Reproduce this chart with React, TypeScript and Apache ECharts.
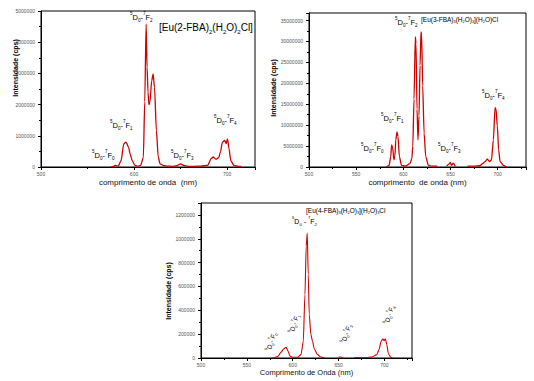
import React, { useEffect, useRef } from "react";
import * as echarts from "echarts";

// ---- data: wavelength (nm) / intensity (cps) ----
const wavelengthA = [575, 578, 580, 583, 586, 589, 591.4, 594, 596, 598, 601, 604, 607, 610, 611.5, 613, 614, 615, 616, 617, 619, 620.5, 622, 624, 626, 628, 632, 636, 641, 646, 650, 653.6, 658, 664, 672, 679, 683, 685, 688, 691, 693, 695, 697.5, 699, 700.4, 702, 704, 707.5, 712, 715];
const intensityA = [0, 20000, 50000, 30000, 200000, 740000, 800000, 640000, 400000, 200000, 50000, 30000, 50000, 300000, 2100000, 4580000, 3200000, 2400000, 2000000, 2070000, 2770000, 2980000, 2550000, 1170000, 320000, 100000, 40000, 30000, 20000, 40000, 100000, 50000, 20000, 20000, 30000, 50000, 270000, 320000, 250000, 300000, 500000, 800000, 850000, 750000, 900000, 600000, 200000, 50000, 20000, 20000];

const wavelengthB = [582, 585, 586.6, 587.6, 588.7, 590, 591, 592, 593.3, 594.3, 595.8, 598, 602, 607, 609, 610, 611.3, 612.7, 613.4, 614.5, 615.5, 616.6, 617.7, 618.7, 619.4, 620.5, 622, 623.7, 626.5, 630, 636, 641, 646, 648.4, 649.8, 651, 653, 655, 661, 668, 675, 681, 684, 686.6, 689, 691.3, 693.4, 695.4, 697.2, 698.2, 699.6, 701, 702.5, 706, 709.5];
const intensityB = [0, 400000, 2500000, 5300000, 4500000, 1700000, 2500000, 6500000, 8400000, 7300000, 2500000, 400000, 200000, 800000, 2000000, 4900000, 16200000, 31100000, 29500000, 13800000, 6500000, 12200000, 24300000, 32300000, 31500000, 19400000, 8100000, 2500000, 400000, 200000, 200000, null, 200000, 700000, 1100000, 400000, 900000, 200000, null, 200000, 200000, 300000, 800000, 1300000, 1850000, 1300000, 1700000, 6500000, 14200000, 13800000, 9800000, 4100000, 1300000, 400000, 0];

const wavelengthC = [576.6, 580, 583.8, 587.4, 590.3, 592.8, 595, 597, 600, 605.4, 609, 611.5, 613.3, 614.7, 615.8, 616.9, 618, 619.8, 621.6, 623.4, 627, 630.6, 634, 642, 650, 652, 654.5, 660, 667, 680, 686, 691.7, 694, 696.4, 698.2, 699.6, 701, 702.5, 704.3, 706.8, 708.6];
const intensityC = [0, 2000, 14000, 50000, 78000, 90000, 56000, 16000, 6000, 6000, 28000, 140000, 532000, 938000, 1048000, 700000, 364000, 196000, 140000, 78000, 28000, 8000, 2000, null, 6000, 8000, 4000, null, 4000, 4000, 8000, 28000, 70000, 140000, 162000, 146000, 162000, 112000, 34000, 6000, 0];

const yMaxA = 5000000;
const yStepA = 1000000;
const yMaxB = 36800000;
const yStepB = 5000000;
const yMaxC = 1300000;
const yStepC = 200000;
const xMin = 500;
const xMax = 730;

const titleA = "[Eu(2-FBA){sb|2}(H{sb|2}O){sb|2}Cl]";
const titleB = "[Eu(3-FBA){sb|3}(H{sb|2}O){sb|3}](H{sb|2}O)Cl";
const titleC = "[Eu(4-FBA){sb|3}(H{sb|2}O){sb|3}](H{sb|2}O){sb|3}Cl";
const transitions = ["0", "1", "2", "3", "4"];

const FONT = "Liberation Sans, Arial, sans-serif";
const RED = "#d00000";

function pairs(xs: number[], ys: (number | null)[]) {
  return xs.map((x, i) => [x, ys[i]]);
}

function trans(j: string, sep = "-") {
  return `{sp|5}D{sb|0}${sep}{sp|7}F{sb|${j}}`;
}

const rich = (fs: number) => ({
  sp: { fontSize: fs * 0.6, verticalAlign: "top", fontFamily: FONT, fill: "#000", lineHeight: fs * 1.5 },
  sb: { fontSize: fs * 0.6, verticalAlign: "bottom", fontFamily: FONT, fill: "#000", lineHeight: fs * 1.5 },
});

function label(text: string, x: number, y: number, fs: number, rotation = 0) {
  return {
    type: "text",
    x,
    y,
    rotation,
    style: {
      text,
      fontSize: fs,
      fontFamily: FONT,
      fill: "#000",
      lineHeight: fs * 1.5,
      rich: rich(fs),
      align: "left",
      verticalAlign: "middle",
      textAlign: "left",
      textVerticalAlign: "middle",
    },
  };
}

function yTitle(x: number, y: number) {
  return {
    type: "text",
    x,
    y,
    rotation: Math.PI / 2,
    style: {
      text: "Intensidade (cps)",
      fontSize: 7,
      fontWeight: "bold",
      fontFamily: FONT,
      fill: "#000",
      align: "center",
      verticalAlign: "middle",
      textAlign: "center",
      textVerticalAlign: "middle",
    },
  };
}

const fmt = (v: number) => String(Math.round(v));

function xAxis(gridIndex: number, interval: number, name: string, fs: number, gap: number) {
  return {
    type: "value",
    gridIndex,
    min: xMin,
    max: xMax,
    interval,
    name,
    nameLocation: "middle",
    nameGap: gap,
    nameTextStyle: { fontSize: fs, fontFamily: FONT, color: "#111" },
    axisLine: { show: true, onZero: false, lineStyle: { color: "#000", width: 1 } },
    axisTick: { show: true, length: 3, lineStyle: { color: "#000" } },
    minorTick: { show: true, splitNumber: 2, length: 2, lineStyle: { color: "#000" } },
    axisLabel: { fontSize: 5, fontFamily: FONT, color: "#555", margin: 4, showMaxLabel: false, formatter: fmt },
    splitLine: { show: false },
  };
}

function yAxis(gridIndex: number, max: number, interval: number) {
  return {
    type: "value",
    gridIndex,
    min: 0,
    max,
    interval,
    axisLine: { show: true, lineStyle: { color: "#000", width: 1 } },
    axisTick: { show: true, length: 3, lineStyle: { color: "#000" } },
    minorTick: { show: true, splitNumber: 2, length: 2, lineStyle: { color: "#000" } },
    axisLabel: { fontSize: 5, fontFamily: FONT, color: "#555", margin: 6, showMaxLabel: max % interval === 0, formatter: fmt },
    splitLine: { show: false },
  };
}

function series(i: number, data: any[], width: number) {
  return {
    type: "line",
    xAxisIndex: i,
    yAxisIndex: i,
    data,
    showSymbol: false,
    smooth: 0.25,
    smoothMonotone: "x",
    lineStyle: { color: RED, width },
    itemStyle: { color: RED },
  };
}

export default function App() {
  const ref = useRef<HTMLDivElement>(null);
  useEffect(() => {
    if (!ref.current) return;
    const chart = echarts.init(ref.current, null, { renderer: "svg" });
    const gridBase = { show: true, borderColor: "#000", borderWidth: 1, backgroundColor: "transparent", containLabel: false };
    chart.setOption({
      animation: false,
      backgroundColor: "#fff",
      grid: [
        { ...gridBase, left: 41, top: 11, right: 279, bottom: 214 },
        { ...gridBase, left: 309, top: 13, right: 8, bottom: 214 },
        { ...gridBase, left: 201, top: 203, right: 122, bottom: 23 },
      ],
      xAxis: [
        xAxis(0, 100, "comprimento de onda  (nm)", 8, 11),
        xAxis(1, 50, "comprimento  de onda (nm)", 8, 11),
        xAxis(2, 50, "Comprimento de Onda (nm)", 7.5, 10),
      ],
      yAxis: [yAxis(0, yMaxA, yStepA), yAxis(1, yMaxB, yStepB), yAxis(2, yMaxC, yStepC)],
      series: [
        series(0, pairs(wavelengthA, intensityA), 1.3),
        series(1, pairs(wavelengthB, intensityB), 1.3),
        series(2, pairs(wavelengthC, intensityC), 1.1),
      ],
      graphic: [
        yTitle(15, 68),
        yTitle(273, 88),
        yTitle(168, 291),
        // panel A
        label(titleA, 159, 27, 10),
        label(trans(transitions[2]), 130, 17, 7.5),
        label(trans(transitions[1]), 110, 125, 7.5),
        label(trans(transitions[0]), 92, 155, 7.5),
        label(trans(transitions[3]), 171, 155, 7.5),
        label(trans(transitions[4]), 214, 120, 7.5),
        // panel B
        label(titleB, 421, 19, 6.5),
        label(trans(transitions[2]), 395, 22, 7.5),
        label(trans(transitions[1]), 381, 118, 7.5),
        label(trans(transitions[0]), 361, 148, 7.5),
        label(trans(transitions[3]), 438, 148, 7.5),
        label(trans(transitions[4]), 482, 95, 7.5),
        // panel C
        label(titleC, 306, 210, 6.5),
        label(trans(transitions[2], " - "), 292, 221, 7),
        label(trans(transitions[0]), 268, 351, 6.5, 1.25),
        label(trans(transitions[1]), 291, 333, 6.5, 1.25),
        label(trans(transitions[3]), 343, 343, 6.5, 1.25),
        label(trans(transitions[4]), 386, 324, 6.5, 1.25),
      ],
    });
    return () => chart.dispose();
  }, []);
  return (
    <div
      ref={ref}
      style={{ position: "fixed", left: 0, top: 0, width: 534, height: 381, background: "#fff" }}
    />
  );
}
